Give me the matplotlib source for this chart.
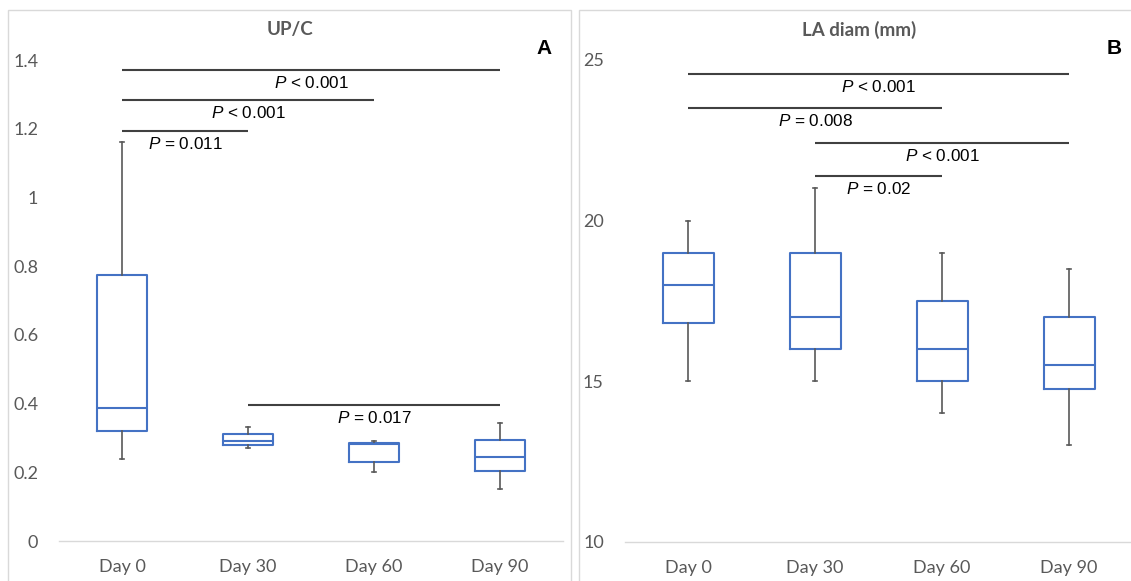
import matplotlib
matplotlib.use("Agg")
import matplotlib.pyplot as plt
from matplotlib.patches import Rectangle

plt.rcParams['mathtext.fontset'] = 'custom'
plt.rcParams['mathtext.it'] = 'Liberation Sans:italic'
plt.rcParams['mathtext.rm'] = 'Liberation Sans'

# ---------------- data ----------------
categories = ['Day 0', 'Day 30', 'Day 60', 'Day 90']

upc_whislo = [0.24, 0.27, 0.20, 0.15]
upc_q1 = [0.32, 0.28, 0.23, 0.205]
upc_med = [0.388, 0.292, 0.281, 0.245]
upc_q3 = [0.774, 0.311, 0.286, 0.294]
upc_whishi = [1.162, 0.333, 0.291, 0.343]

la_whislo = [15, 15, 14, 13]
la_q1 = [16.8, 16, 15, 14.75]
la_med = [18, 17, 16, 15.5]
la_q3 = [19, 19, 17.5, 17]
la_whishi = [20, 21, 19, 18.5]

upc_sig_pairs = [(0, 3), (0, 2), (0, 1), (1, 3)]
upc_sig_y = [1.371, 1.284, 1.193, 0.397]
upc_sig_labels = ['< 0.001', '< 0.001', '= 0.011', '= 0.017']

la_sig_pairs = [(0, 3), (0, 2), (1, 3), (1, 2)]
la_sig_y = [24.57, 23.51, 22.43, 21.40]
la_sig_labels = ['< 0.001', '= 0.008', '< 0.001', '= 0.02']

upc_yticks = [0, 0.2, 0.4, 0.6, 0.8, 1.0, 1.2, 1.4]
upc_yticklabels = ['0', '0.2', '0.4', '0.6', '0.8', '1', '1.2', '1.4']
la_yticks = [10, 15, 20, 25]
la_yticklabels = ['10', '15', '20', '25']

# ---------------- style ----------------
W, H = 1131, 581
fig = plt.figure(figsize=(W / 100, H / 100), dpi=100)

BLUE = '#4472C4'
WGRAY = '#595959'
TICKGRAY = '#595959'
BORDER = '#D9D9D9'
SIGCOL = '#404040'


def fx(px):
    return px / W


def fy(py):
    return 1 - py / H


# panel borders
fig.patches.append(Rectangle((fx(8), -0.05), fx(571 - 8), fy(10) + 0.05,
                             transform=fig.transFigure, fill=False,
                             edgecolor=BORDER, linewidth=1.0, zorder=0))
fig.patches.append(Rectangle((fx(579), -0.05), fx(1140 - 579), fy(10) + 0.05,
                             transform=fig.transFigure, fill=False,
                             edgecolor=BORDER, linewidth=1.0, zorder=0))


def make_panel(rect, whislo, q1, med, q3, whishi, ylim, yticks, yticklabels,
               sig_pairs, sig_y, sig_labels):
    ax = fig.add_axes(rect)
    stats = []
    for i in range(len(categories)):
        stats.append(dict(whislo=whislo[i], q1=q1[i], med=med[i], q3=q3[i],
                          whishi=whishi[i], fliers=[], label=categories[i]))
    ax.bxp(stats, positions=range(len(categories)), widths=0.4,
           showfliers=False, capwidths=0.03,
           boxprops=dict(color=BLUE, linewidth=1.5),
           medianprops=dict(color=BLUE, linewidth=1.5),
           whiskerprops=dict(color=WGRAY, linewidth=1.2),
           capprops=dict(color=WGRAY, linewidth=1.2))
    ax.set_xlim(-0.5, len(categories) - 0.5)
    ax.set_ylim(*ylim)
    ax.set_yticks(yticks)
    ax.set_yticklabels(yticklabels)
    ax.set_xticks(range(len(categories)))
    ax.set_xticklabels(categories)
    for s in ['top', 'right', 'left']:
        ax.spines[s].set_visible(False)
    ax.spines['bottom'].set_color(BORDER)
    ax.spines['bottom'].set_linewidth(1.0)
    ax.tick_params(axis='both', length=0, labelcolor=TICKGRAY, labelsize=13)
    ax.tick_params(axis='y', pad=15)
    ax.tick_params(axis='x', pad=13)
    for lab in ax.get_xticklabels() + ax.get_yticklabels():
        lab.set_fontfamily('Lato')
    ax.patch.set_alpha(0)
    for (i, j), y, lab in zip(sig_pairs, sig_y, sig_labels):
        ax.plot([i, j], [y, y], color=SIGCOL, linewidth=1.5,
                clip_on=False, solid_capstyle='butt')
        ax.annotate(r'$P$ ' + lab, xy=((i + j) / 2, y), xytext=(0, -9.4),
                    textcoords='offset points', ha='center', va='center',
                    fontsize=12.3, color='black', family='Liberation Sans',
                    annotation_clip=False)
    return ax


axA = make_panel([fx(59), fy(541), fx(563 - 59), fy(60) - fy(541)],
                 upc_whislo, upc_q1, upc_med, upc_q3, upc_whishi,
                 (0, 1.4), upc_yticks, upc_yticklabels,
                 upc_sig_pairs, upc_sig_y, upc_sig_labels)

axB = make_panel([fx(624.6), fy(541.7), fx(508), fy(60) - fy(541.7)],
                 la_whislo, la_q1, la_med, la_q3, la_whishi,
                 (10, 25), la_yticks, la_yticklabels,
                 la_sig_pairs, la_sig_y, la_sig_labels)

fig.text(fx(290), fy(30), 'UP/C', ha='center', va='center', fontsize=13.5,
         fontweight='bold', color=TICKGRAY, family='Lato')
fig.text(fx(859), fy(30), 'LA diam (mm)', ha='center', va='center',
         fontsize=13.5, fontweight='bold', color=TICKGRAY, family='Lato')
fig.text(fx(544), fy(49), 'A', ha='center', va='center', fontsize=15,
         fontweight='bold', color='black', family='Liberation Sans')
fig.text(fx(1114), fy(49), 'B', ha='center', va='center', fontsize=15,
         fontweight='bold', color='black', family='Liberation Sans')

fig.savefig('out.png', dpi=100)
